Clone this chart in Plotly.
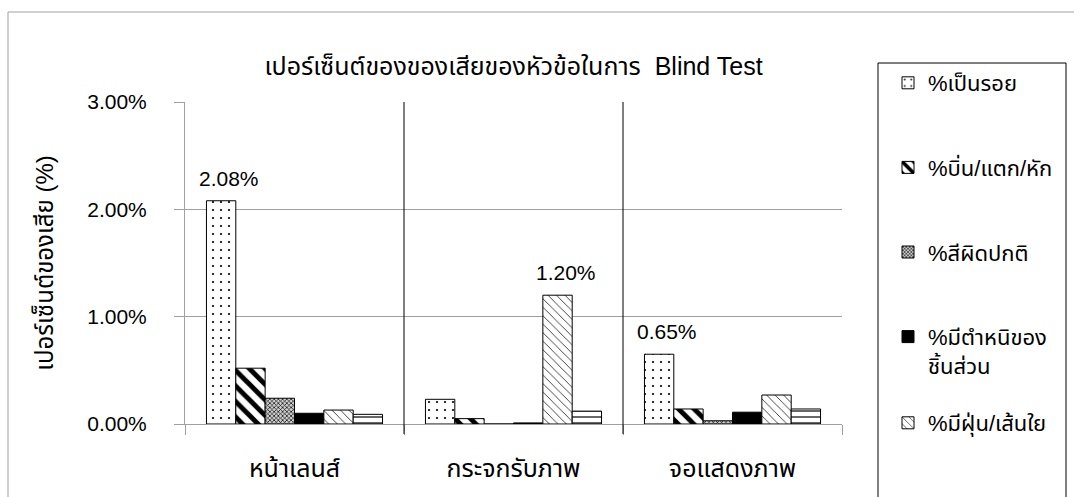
import plotly.graph_objects as go

# Defect categories (x axis) and the share of defects per type, in percent
categories = ["หน้าเลนส์", "กระจกรับภาพ", "จอแสดงภาพ"]
series_names = [
    "%เป็นรอย",
    "%บิ่น/แตก/หัก",
    "%สีผิดปกติ",
    "%มีตำหนิของ<br>ชิ้นส่วน",
    "%มีฝุ่น/เส้นใย",
    "%อื่นๆ",
]
scratch = [2.08, 0.23, 0.65]
chipped = [0.52, 0.05, 0.14]
discolor = [0.24, 0.00, 0.03]
blemish = [0.10, 0.01, 0.11]
dust = [0.13, 1.20, 0.27]
other = [0.09, 0.12, 0.14]
y_tick_vals = [0, 1, 2, 3]
y_tick_text = ["0.00%", "1.00%", "2.00%", "3.00%"]
# (series index, category index) of bars carrying a value label
labelled = [(0, 0), (4, 1), (0, 2)]

values = [scratch, chipped, discolor, blemish, dust, other]

W, H = 1074, 497
M_L, M_R, M_T, M_B = 185, 232, 102, 73
BARGAP = 0.196
plot_w = W - M_L - M_R
plot_h = H - M_T - M_B

LATIN = "Liberation Sans, Arial, Noto Sans Thai, sans-serif"

fills = [
    dict(color="white", pattern=dict(shape=".", fgcolor="black", bgcolor="white",
                                     size=8, solidity=0.06, fillmode="replace")),
    dict(color="white", pattern=dict(shape="\\", fgcolor="black", bgcolor="white",
                                     size=11, solidity=0.45, fillmode="replace")),
    dict(color="white", pattern=dict(shape="x", fgcolor="black", bgcolor="#cfcfcf",
                                     size=3, solidity=0.4, fillmode="replace")),
    dict(color="black"),
    dict(color="white", pattern=dict(shape="\\", fgcolor="#333333", bgcolor="white",
                                     size=6, solidity=0.15, fillmode="replace")),
    dict(color="white", pattern=dict(shape="-", fgcolor="black", bgcolor="white",
                                     size=6, solidity=0.2, fillmode="replace")),
]

fig = go.Figure()
for i, (name, vals) in enumerate(zip(series_names, values)):
    fig.add_trace(go.Bar(
        x=categories,
        y=vals,
        name=name,
        marker=dict(**fills[i], line=dict(color="black", width=1)),
        legend="legend" if i < 4 else "legend2",
        legendgroup=f"g{i}",
        showlegend=i < 5,
    ))

# value labels above selected bars
group_px = plot_w / len(categories)
bar_px = group_px * (1 - BARGAP) / len(values)
annotations = []
for s, c in labelled:
    v = values[s][c]
    annotations.append(dict(
        x=categories[c], y=v, xref="x", yref="y",
        text=f"{v:.2f}%", showarrow=False,
        xanchor="center", yanchor="bottom",
        xshift=(s - (len(values) - 1) / 2) * bar_px + 8, yshift=9,
        font=dict(family=LATIN, size=21, color="black"),
    ))

def px_x(x):
    return (x - M_L) / plot_w

def px_y(y):
    return (H - M_B - y) / plot_h

shapes = [
    # outer chart frame
    dict(type="rect", xref="paper", yref="paper",
         x0=px_x(8), x1=px_x(1090), y0=px_y(510), y1=px_y(12),
         line=dict(color="#a0a0a0", width=1), fillcolor="rgba(0,0,0,0)", layer="below"),
    # legend frame
    dict(type="rect", xref="paper", yref="paper",
         x0=px_x(878), x1=px_x(1066), y0=px_y(510), y1=px_y(63),
         line=dict(color="black", width=1), fillcolor="white", layer="below"),
]
# category separators
for b in [0.5, 1.5]:
    shapes.append(dict(type="line", xref="x", yref="paper", x0=b, x1=b,
                       y0=-10 / plot_h, y1=1, line=dict(color="black", width=1)))

fig.update_layout(
    width=W, height=H,
    margin=dict(l=M_L, r=M_R, t=M_T, b=M_B),
    paper_bgcolor="white", plot_bgcolor="white",
    barmode="group", bargap=BARGAP, bargroupgap=0,
    font=dict(family=LATIN, size=21, color="black"),
    title=dict(text="เปอร์เซ็นต์ของของเสียของหัวข้อในการ  Blind Test",
               x=0.5, xref="paper", xanchor="center",
               y=1 - 66 / H, yref="container", yanchor="middle",
               font=dict(family=LATIN, size=25, color="black")),
    xaxis=dict(type="category", range=[-0.5, 2.5], showline=True,
               linecolor="#a0a0a0", linewidth=1, ticks="outside",
               tickson="boundaries", ticklen=10, tickcolor="#a0a0a0",
               showgrid=False, tickfont=dict(size=25), ticklabelstandoff=22),
    yaxis=dict(range=[0, 3], tickvals=y_tick_vals, ticktext=y_tick_text,
               showgrid=True, gridcolor="#a0a0a0", gridwidth=1,
               showline=True, linecolor="#a0a0a0", linewidth=1,
               ticks="outside", ticklen=10, tickcolor="#a0a0a0",
               zeroline=False, ticklabelstandoff=23, tickfont=dict(size=21),
               title=dict(text="เปอร์เซ็นต์ของเสีย (%)", standoff=26,
                          font=dict(size=24))),
    legend=dict(x=px_x(888), xanchor="left", y=px_y(62), yanchor="top",
                bgcolor="rgba(0,0,0,0)", borderwidth=0, tracegroupgap=53,
                valign="top", font=dict(size=22), maxheight=480),
    legend2=dict(x=px_x(888), xanchor="left", y=px_y(402), yanchor="top",
                 bgcolor="rgba(0,0,0,0)", borderwidth=0, font=dict(size=22)),
    annotations=annotations,
    shapes=shapes,
)

fig.write_html("out.html")
